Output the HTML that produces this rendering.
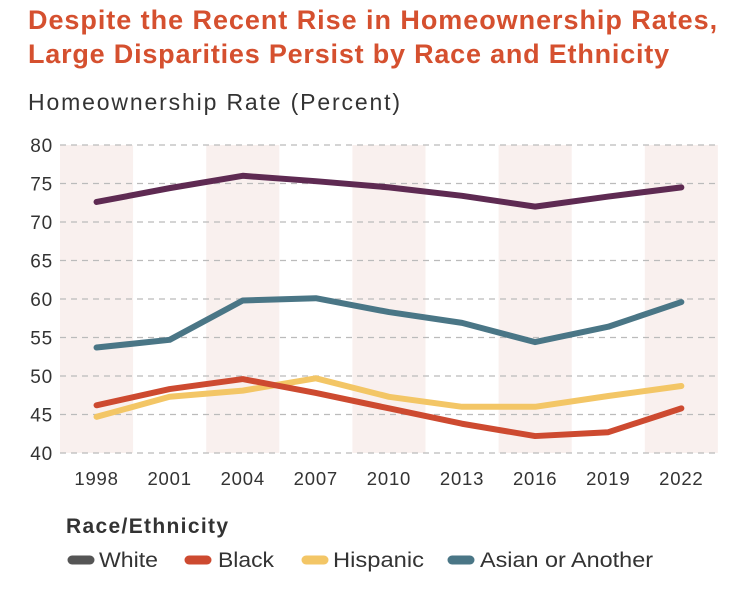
<!DOCTYPE html>
<html><head><meta charset="utf-8"><style>
body{margin:0;background:#fff;width:735px;height:587px;overflow:hidden;font-family:"Liberation Sans",sans-serif}
</style></head><body>
<svg width="735" height="587" xmlns="http://www.w3.org/2000/svg">
<text x="28" y="29" font-size="27" font-weight="bold" letter-spacing="0.9" fill="#d5502f" textLength="690" lengthAdjust="spacing">Despite the Recent Rise in Homeownership Rates,</text>
<text x="28" y="63" font-size="27" font-weight="bold" letter-spacing="0.9" fill="#d5502f" textLength="642" lengthAdjust="spacing">Large Disparities Persist by Race and Ethnicity</text>
<text x="28" y="110" font-size="23" fill="#333" textLength="372" lengthAdjust="spacing">Homeownership Rate (Percent)</text>
<g id="bands"></g><g id="grid"></g><g id="lines"></g><g id="xt"></g>
<text x="66" y="533" font-size="21" font-weight="bold" fill="#333" textLength="162" lengthAdjust="spacing">Race/Ethnicity</text>
<g id="legend"></g>
</svg>
<script>
const years=["1998","2001","2004","2007","2010","2013","2016","2019","2022"];
const white=[72.6,74.4,76.0,75.3,74.5,73.4,72.0,73.3,74.5];
const black=[46.2,48.3,49.6,47.8,45.8,43.8,42.2,42.7,45.8];
const hispanic=[44.7,47.3,48.1,49.7,47.3,46.0,46.0,47.4,48.7];
const asian=[53.7,54.7,59.8,60.1,58.3,56.9,54.4,56.4,59.6];
const yTicks=[40,45,50,55,60,65,70,75,80];
const NS="http://www.w3.org/2000/svg";
const x0=60,step=73.1,yB=453,yT=145;
const xs=i=>x0+step/2+i*step;
const ys=v=>yB-(v-40)/40*(yB-yT);
function mk(t,a,p){const e=document.createElementNS(NS,t);for(const k in a)e.setAttribute(k,a[k]);document.getElementById(p).appendChild(e);return e;}
years.forEach((y,i)=>{if(i%2==0){const r=mk('rect',{x:x0+i*step,y:yT,width:step,height:yB-yT,fill:'#f9f0ee'},'bands');

}
const t=mk('text',{x:xs(i),y:485,'text-anchor':'middle','font-size':18.5,'letter-spacing':0.8,fill:'#333'},'xt');t.textContent=y;

});
yTicks.forEach(v=>{const l=mk('line',{x1:x0,x2:718,y1:ys(v),y2:ys(v),stroke:'#bbb','stroke-dasharray':'6,5','stroke-width':1.2},'grid');


const t=mk('text',{x:53,y:ys(v)+7,'text-anchor':'end','font-size':19,'letter-spacing':0.8,fill:'#333'},'grid');t.textContent=v;

});
const series=[["white",white,"#5e2a52","White","#555"],["black",black,"#cd4a30","Black","#cd4a30"],["hispanic",hispanic,"#f3c666","Hispanic","#f3c666"],["asian",asian,"#4a7686","Asian or Another","#4a7686"]];
const order=[2,1,3,0];
order.forEach(k=>{const s=series[k];const p=mk('polyline',{points:s[1].map((v,i)=>xs(i)+','+ys(v)).join(' '),fill:'none',stroke:s[2],'stroke-width':6,'stroke-linecap':'round','stroke-linejoin':'round'},'lines');

});
const lx=[72,189,306,452];
const tx=[99,218,333,480];
const lw=[59,56,91,173];
series.forEach((s,i)=>{const l=mk('line',{x1:lx[i],x2:lx[i]+18,y1:560,y2:560,stroke:s[4],'stroke-width':9,'stroke-linecap':'round'},'legend');


const t=mk('text',{x:tx[i],y:567,'font-size':21,fill:'#333',textLength:lw[i],lengthAdjust:'spacingAndGlyphs'},'legend');t.textContent=s[3];

});
</script>
</body></html>
